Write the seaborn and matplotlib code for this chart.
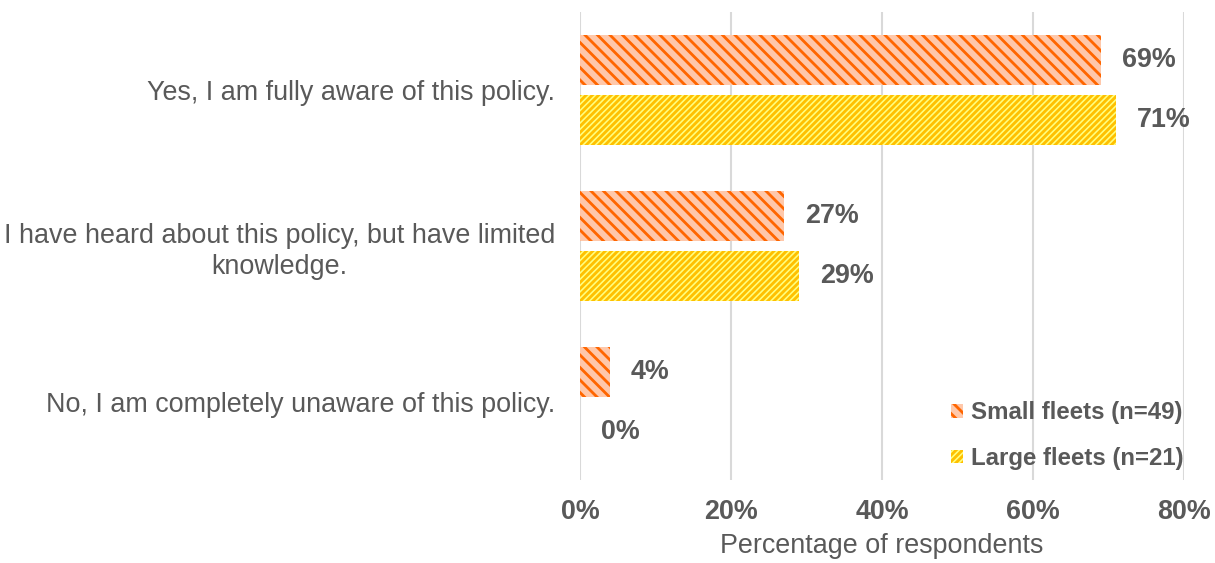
import pandas as pd
import matplotlib
matplotlib.use('Agg')
import matplotlib.pyplot as plt
import seaborn as sns
from matplotlib.patches import Patch
from matplotlib.ticker import FuncFormatter

# Data
answers = [
    "Yes, I am fully aware of this policy.",
    "I have heard about this policy, but have limited\nknowledge.",
    "No, I am completely unaware of this policy.",
]
groups = ["Small fleets (n=49)", "Large fleets (n=21)"]
small_fleets = [69, 27, 4]
large_fleets = [71, 29, 0]

# Look of each series: face colour, hatch colour, hatch pattern
styles = {
    groups[0]: ("#FFC8AA", "#FF6600", "\\" * 4),
    groups[1]: ("#FFFF80", "#FFC000", "/" * 8),
}

df = pd.DataFrame({
    "answer": answers * 2,
    "group": [groups[0]] * 3 + [groups[1]] * 3,
    "pct": small_fleets + large_fleets,
})

sns.set_style('white')
plt.rcParams['font.family'] = ['Liberation Sans', 'DejaVu Sans']
plt.rcParams['hatch.linewidth'] = 1.35
text_col = '#595959'
fs = 12.9

fig = plt.figure(figsize=(8.1, 563 / 150), dpi=150)
ax = fig.add_axes([580 / 1215, 1 - 480 / 563, 604 / 1215, 468 / 563])

sns.barplot(data=df, x="pct", y="answer", hue="group", hue_order=groups,
            order=answers, orient="h", width=0.77, gap=0.18, ax=ax,
            legend=False)

for container, grp in zip(ax.containers, groups):
    face, hcol, hatch = styles[grp]
    for bar in container:
        bar.set_facecolor(face)
        bar.set_edgecolor(hcol)
        bar.set_linewidth(0)
        bar.set_hatch(hatch)
    ax.bar_label(container, labels=[f"{v:.0f}%" for v in container.datavalues],
                 padding=10, fontsize=fs, fontweight='bold', color=text_col)

ax.set_xlim(0, 80)
ax.set_xticks([0, 20, 40, 60, 80])
ax.xaxis.set_major_formatter(FuncFormatter(lambda v, p: f"{v:.0f}%"))
ax.grid(axis='x', color='#D9D9D9', linewidth=1.0)
ax.set_axisbelow(True)
for s in ax.spines.values():
    s.set_visible(False)

ax.tick_params(axis='x', length=0, pad=9, labelsize=fs, labelcolor=text_col)
ax.tick_params(axis='y', length=0, pad=12, labelsize=fs, labelcolor=text_col)
for t in ax.get_xticklabels():
    t.set_fontweight('bold')
for t in ax.get_yticklabels():
    t.set_multialignment('center')
    t.set_linespacing(1.25)

ax.set_xlabel("Percentage of respondents", fontsize=fs, color=text_col, labelpad=4)
ax.set_ylabel("")

handles = [Patch(facecolor=styles[g][0], edgecolor=styles[g][1], linewidth=0,
                 hatch=styles[g][2], label=g) for g in groups]
leg = ax.legend(handles=handles, loc='lower right', bbox_to_anchor=(1.0, 0.021),
                frameon=False, fontsize=11.5, handlelength=0.5, handleheight=0.5,
                handletextpad=0.35, labelspacing=0.95, borderaxespad=0,
                borderpad=0)
for t in leg.get_texts():
    t.set_color(text_col)
    t.set_fontweight('bold')

fig.savefig('out.png', dpi=150)
